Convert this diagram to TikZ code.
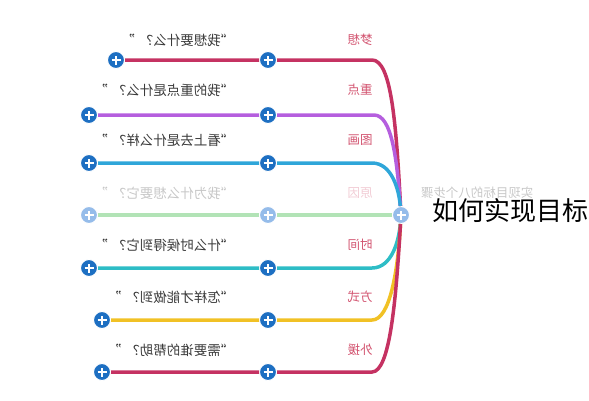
\documentclass[tikz,border=0pt]{standalone}
\usepackage{fontspec}
\setmainfont{Noto Sans CJK SC}
\usepackage{tikz}

\definecolor{rosered}{HTML}{C53262}
\definecolor{lilac}{HTML}{B55EDE}
\definecolor{skyline}{HTML}{2FA6D9}
\definecolor{mint}{HTML}{B2E3B6}
\definecolor{teal2}{HTML}{2EBDC6}
\definecolor{amber}{HTML}{F1C125}
\definecolor{plusblue}{HTML}{1D6FC2}
\definecolor{paleblue}{HTML}{95BCEA}
\definecolor{tagred}{HTML}{D2536F}
\definecolor{asktext}{HTML}{3A3A3A}

\begin{document}
\begin{tikzpicture}[x=1pt, y=-1pt,
	dot/.style={circle, fill=plusblue, draw=white, line width=1pt, minimum size=17pt, inner sep=0pt,
		path picture={\draw[white, line width=2pt] ([xshift=-4.5pt]path picture bounding box.center) -- ([xshift=4.5pt]path picture bounding box.center) ([yshift=-4.5pt]path picture bounding box.center) -- ([yshift=4.5pt]path picture bounding box.center);}},
	pale/.style={dot, fill=paleblue},
	branch/.style={line width=3.5pt},
	ask/.style={anchor=west, xscale=-1, font=\fontsize{13.5}{13.5}\selectfont, text=asktext},
	tag/.style={xscale=-1, font=\fontsize{12.5}{12.5}\selectfont, text=tagred}]
	\useasboundingbox (0,0) rectangle (589,400);
	\coordinate (k1) at (372,60);
	\coordinate (k2) at (374,115);
	\coordinate (k3) at (372,163);
	\coordinate (k5) at (372,268);
	\coordinate (k6) at (372,320);
	\coordinate (k7) at (372,372);
	\node[pale] (c) at (401,215) {};
	\node[dot] (l1) at (116,60) {};
	\node[dot] (m1) at (268,60) {};
	\node[dot] (l2) at (89,115) {};
	\node[dot] (m2) at (268,115) {};
	\node[dot] (l3) at (89,163) {};
	\node[dot] (m3) at (268,163) {};
	\node[pale] (l4) at (89,215) {};
	\node[pale] (m4) at (268,215) {};
	\node[dot] (l5) at (89,268) {};
	\node[dot] (m5) at (268,268) {};
	\node[dot] (l6) at (102,320) {};
	\node[dot] (m6) at (268,320) {};
	\node[dot] (l7) at (102,372) {};
	\node[dot] (m7) at (268,372) {};
	\draw[branch, rosered] (l1) -- (m1) -- (k1) .. controls (391,60) and (396,120) .. (c);
	\draw[branch, lilac] (l2) -- (m2) -- (k2) .. controls (392,115) and (397,160) .. (c);
	\draw[branch, skyline] (l3) -- (m3) -- (k3) .. controls (392,163) and (399,190) .. (c);
	\draw[branch, mint] (l4) -- (m4) -- (c);
	\draw[branch, teal2] (l5) -- (m5) -- (k5) .. controls (392,268) and (399,240) .. (c);
	\draw[branch, amber] (l6) -- (m6) -- (k6) .. controls (390,320) and (398,270) .. (c);
	\draw[branch, rosered] (l7) -- (m7) -- (k7) .. controls (390,372) and (396,300) .. (c);
	\node[ask] (q1) at (238,40) {“我想要什么？\hspace{5pt}”};
	\node[ask] (q2) at (238,90) {“我的重点是什么？\hspace{5pt}”};
	\node[ask] (q3) at (238,140) {“看上去是什么样？\hspace{5pt}”};
	\node[ask, text=black!22] (q4) at (238,193) {“我为什么想要它？\hspace{5pt}”};
	\node[ask] (q5) at (238,245) {“什么时候得到它？\hspace{5pt}”};
	\node[ask] (q6) at (238,297) {“怎样才能做到？\hspace{5pt}”};
	\node[ask] (q7) at (238,350) {“需要谁的帮助？\hspace{5pt}”};
	\node[tag] (t1) at (360,40) {梦想};
	\node[tag] (t2) at (360,90) {重点};
	\node[tag] (t3) at (360,140) {图画};
	\node[tag, text=tagred!30] (t4) at (360,193) {原因};
	\node[tag] (t5) at (360,245) {时间};
	\node[tag] (t6) at (360,297) {方式};
	\node[tag] (t7) at (360,350) {外援};
	\node[xscale=-1, font=\fontsize{12.5}{12.5}\selectfont, text=black!22] (steps) at (477,193) {实现目标的八个步骤};
	\node[anchor=west, fill=white, inner sep=1pt, font=\fontsize{26}{26}\selectfont] (goal) at (431,211) {如何实现目标};
\end{tikzpicture}
\end{document}
